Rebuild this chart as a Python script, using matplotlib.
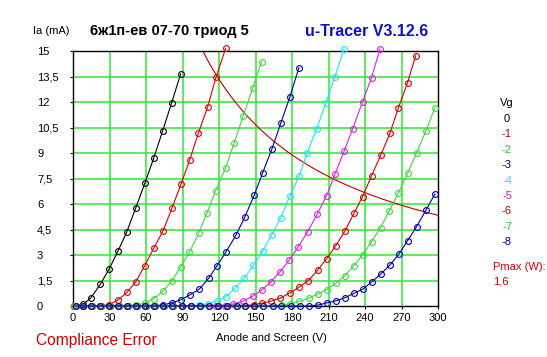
import matplotlib
matplotlib.use("Agg")
import matplotlib.pyplot as plt
import numpy as np

plt.rcParams['font.family'] = ['Liberation Sans', 'DejaVu Sans']

# ---------------- data ----------------
vg_labels = ['0', '-1', '-2', '-3', '-4', '-5', '-6', '-7', '-8']

va_0 = [1.5, 8.3, 14.6, 22.5, 29.6, 37.0, 44.1, 51.6, 59.2, 66.3, 73.7, 81.1, 88.5]
ia_0 = [0, 0.10, 0.47, 1.28, 2.16, 3.24, 4.34, 5.78, 7.25, 8.69, 10.31, 11.96, 13.66]

va_1 = [1.0, 8.2, 15.2, 22.4, 29.6, 36.9, 44.3, 51.6, 59.0, 66.3, 73.8, 81.3, 88.7,
        95.9, 103.0, 110.7, 117.5, 125.5]
ia_1 = [0, 0, 0, 0, 0.08, 0.35, 0.80, 1.43, 2.38, 3.39, 4.39, 5.75, 7.16,
        8.59, 10.16, 11.72, 13.45, 15.16]

va_2 = [1.0, 8.3, 15.5, 22.8, 30.0, 37.2, 44.5, 51.8, 59.2, 66.3, 73.9, 81.3, 88.5,
        95.7, 103.2, 110.0, 117.2, 125.5, 132.5, 139.9, 147.6, 155.0]
ia_2 = [0, 0, 0, 0, 0, 0, 0, 0.04, 0.18, 0.42, 0.86, 1.48, 2.30,
        3.16, 4.27, 5.45, 6.76, 8.14, 9.60, 11.18, 12.80, 14.37]

va_3 = [1.0, 8.3, 15.6, 22.9, 30.2, 37.5, 44.8, 52.1, 59.4, 66.5, 73.8, 81.3, 88.5,
        96.0, 103.8, 111.4, 118.4, 125.8, 133.9, 141.3, 149.0, 155.9, 163.5, 170.9,
        178.3, 185.7]
ia_3 = [0, 0, 0, 0, 0, 0, 0, 0, 0, 0.02, 0.06, 0.19, 0.36,
        0.65, 0.99, 1.62, 2.37, 3.19, 4.16, 5.25, 6.53, 7.84, 9.24, 10.78,
        12.31, 14.02]

va_4 = [1.0, 8.4, 15.8, 23.2, 30.6, 38.0, 45.4, 52.8, 60.2, 67.6, 75.0, 82.4, 89.8,
        97.2, 103.5, 110.6, 118.1, 125.7, 133.3, 140.9, 148.3, 156.0, 163.4, 170.9,
        178.3, 186.0, 192.5, 200.2, 207.9, 215.3, 222.7]
ia_4 = [0, 0, 0, 0, 0, 0, 0, 0, 0, 0, 0, 0, 0,
        0, 0.03, 0.12, 0.29, 0.55, 1.04, 1.63, 2.40, 3.24, 4.20, 5.20,
        6.47, 7.66, 9.02, 10.41, 11.96, 13.49, 15.12]

va_5 = [1.0, 8.4, 15.8, 23.2, 30.6, 38.0, 45.4, 52.8, 60.2, 67.6, 75.0, 82.4, 89.8,
        97.2, 104.6, 111.6, 117.8, 124.9, 131.7, 139.9, 147.7, 155.2, 162.6, 170.3,
        177.8, 185.3, 192.8, 200.7, 208.4, 215.3, 222.9, 229.8, 238.0, 245.4, 252.3]
ia_5 = [0, 0, 0, 0, 0, 0, 0, 0, 0, 0, 0, 0, 0,
        0, 0, 0, 0, 0, 0.12, 0.29, 0.57, 0.94, 1.41, 2.02,
        2.70, 3.50, 4.37, 5.39, 6.49, 7.75, 9.12, 10.41, 12.02, 13.43, 15.12]

va_6 = [1.0, 8.4, 15.8, 23.2, 30.6, 38.0, 45.4, 52.8, 60.2, 67.6, 75.0, 82.4, 89.8,
        97.2, 104.6, 112.0, 119.4, 126.8, 134.2, 141.2, 148.5, 155.5, 163.0, 170.5,
        178.0, 185.5, 193.5, 201.0, 208.4, 216.0, 223.5, 230.9, 238.0, 245.4, 253.0,
        260.5, 267.3, 275.0, 281.6]
ia_6 = [0, 0, 0, 0, 0, 0, 0, 0, 0, 0, 0, 0, 0,
        0, 0, 0, 0, 0, 0, 0.02, 0.08, 0.17, 0.29, 0.47,
        0.76, 1.09, 1.50, 2.10, 2.78, 3.55, 4.41, 5.45, 6.43, 7.66, 8.88,
        10.16, 11.63, 13.14, 14.72]

va_7 = [1.0, 8.4, 15.8, 23.2, 30.6, 38.0, 45.4, 52.8, 60.2, 67.6, 75.0, 82.4, 89.8,
        97.2, 104.6, 112.0, 119.4, 126.8, 134.2, 141.6, 149.0, 156.4, 164.0, 171.5,
        178.3, 185.5, 193.6, 201.6, 208.4, 216.1, 223.5, 230.9, 238.0, 245.4, 252.8,
        259.9, 267.3, 275.0, 282.4, 290.0, 297.5]
ia_7 = [0, 0, 0, 0, 0, 0, 0, 0, 0, 0, 0, 0, 0,
        0, 0, 0, 0, 0, 0, 0, 0, 0, 0, 0.05,
        0.13, 0.27, 0.45, 0.72, 0.96, 1.34, 1.78, 2.37, 3.00, 3.78, 4.61,
        5.59, 6.63, 7.80, 9.02, 10.29, 11.67]

va_8 = [2.5, 8.0, 14.5, 22.2, 29.2, 36.7, 44.1, 51.8, 59.2, 66.6, 74.2, 81.6, 89.3,
        96.7, 104.4, 111.8, 119.5, 126.9, 134.6, 141.6, 148.7, 156.4, 164.1, 171.0,
        179.0, 186.5, 194.2, 201.6, 209.0, 216.4, 223.7, 231.0, 238.5, 245.7, 253.0,
        260.5, 267.9, 275.0, 282.4, 290.0, 297.5]
ia_8 = [0, 0, 0, 0, 0, 0, 0, 0, 0, 0, 0, 0, 0,
        0, 0, 0, 0, 0, 0, 0, 0, 0, 0, 0,
        0, 0, 0, 0.06, 0.19, 0.31, 0.49, 0.75, 1.00, 1.43, 1.88,
        2.41, 3.06, 3.84, 4.67, 5.63, 6.59]

pmax_w = 1.6

x_ticks = [0, 30, 60, 90, 120, 150, 180, 210, 240, 270, 300]
y_ticks = [0, 1.5, 3, 4.5, 6, 7.5, 9, 10.5, 12, 13.5, 15]
y_tick_labels = ['0', '1,5', '3', '4,5', '6', '7,5', '9', '10,5', '12', '13,5', '15']

curves = [(va_0, ia_0), (va_1, ia_1), (va_2, ia_2), (va_3, ia_3), (va_4, ia_4),
          (va_5, ia_5), (va_6, ia_6), (va_7, ia_7), (va_8, ia_8)]
line_colors = ['#000000', '#e00000', '#40d840', '#0000a8', '#20e8f0',
               '#e020e0', '#d80000', '#40d840', '#0000a8']
label_colors = ['#000000', '#c00000', '#30c030', '#000090', '#30d8f0',
                '#c020c0', '#c00000', '#30c030', '#000090']

# ---------------- figure ----------------
W, H = 547, 357
fig = plt.figure(figsize=(W / 100, H / 100), dpi=100)
fig.patch.set_facecolor('white')

def fx(px):
    return px / W

def fy(py):
    return 1 - py / H

ax = fig.add_axes([fx(73), fy(306), fx(438) - fx(73), fy(51) - fy(306)])
ax.set_xlim(0, 300)
ax.set_ylim(0, 15)

for xv in x_ticks[1:-1]:
    ax.axvline(xv, color='#2ee82e', lw=1.1, zorder=1)
for yv in y_ticks[1:-1]:
    ax.axhline(yv, color='#2ee82e', lw=1.1, zorder=1)

# Pmax hyperbola
vp = np.linspace(pmax_w * 1000 / 15, 300, 200)
ax.plot(vp, pmax_w * 1000 / vp, color='#c00000', lw=0.8, zorder=2)

for (v, i), c in zip(curves, line_colors):
    ax.plot(v, i, color=c, lw=0.8, marker='o', ms=4.2, mfc='none', mec=c,
            mew=0.8, clip_on=False, zorder=3)

for s in ax.spines.values():
    s.set_color('black')
    s.set_linewidth(1.0)

ax.set_xticks(x_ticks)
ax.set_xticklabels([str(t) for t in x_ticks])
ax.set_yticks(y_ticks)
ax.set_yticklabels(y_tick_labels)
ax.tick_params(axis='x', direction='out', length=2.2, width=0.8, pad=2.5,
               labelsize=8)
ax.tick_params(axis='y', direction='out', length=2.2, width=0.8, pad=23.7,
               labelsize=8)
for lab in ax.get_yticklabels():
    lab.set_horizontalalignment('left')

# texts
fig.text(fx(33), fy(31), 'Ia (mA)', fontsize=8, va='center', ha='left')
fig.text(fx(90), fy(31), '6ж1п-ев 07-70 триод 5', fontsize=10.5, fontweight='bold',
         va='center', ha='left')
fig.text(fx(305), fy(31), 'u-Tracer V3.12.6', fontsize=11.5, fontweight='bold',
         color='#1010c8', va='center', ha='left')
fig.text(fx(271), fy(338), 'Anode and Screen (V)', fontsize=8, va='center',
         ha='center')
fig.text(fx(36), fy(341), 'Compliance Error', fontsize=11.2, color='#d00000',
         va='center', ha='left')

fig.text(fx(507), fy(103), 'Vg', fontsize=8, va='center', ha='center')
y0 = 119
for k, (lab, c) in enumerate(zip(vg_labels, label_colors)):
    fig.text(fx(507), fy(y0 + k * 15.4), lab, fontsize=8, color=c,
             va='center', ha='center')

fig.text(fx(493), fy(267), 'Pmax (W):', fontsize=8, color='#d00000',
         va='center', ha='left')
fig.text(fx(493), fy(282), str(pmax_w).replace('.', ','), fontsize=8,
         color='#d00000', va='center', ha='left')

fig.savefig('out.png', dpi=100, facecolor='white')
